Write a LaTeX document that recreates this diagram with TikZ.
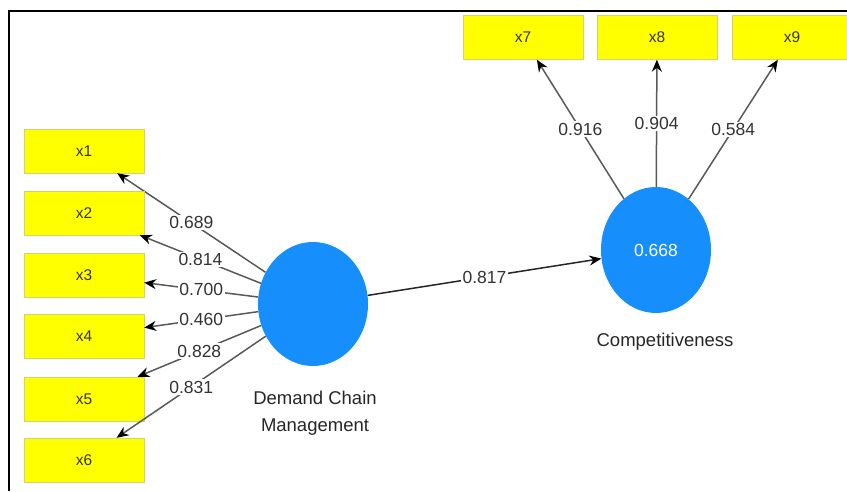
\documentclass[tikz,border=0pt]{standalone}
\usepackage{fontspec}
\setmainfont{Liberation Sans}
\usetikzlibrary{shapes.geometric,arrows.meta}
\definecolor{boxyellow}{RGB}{255,255,0}
\definecolor{boxedge}{RGB}{210,210,110}
\definecolor{lvblue}{RGB}{22,142,252}

\tikzset{
  indicator/.style={draw=boxedge,fill=boxyellow,minimum width=120pt,minimum height=44pt,
    inner sep=0pt,text=black!80,font=\fontsize{15.5}{18}\selectfont},
  latent/.style={ellipse,fill=lvblue,inner sep=0pt},
  coef/.style={fill=white,inner sep=1.5pt,text=black!80,font=\fontsize{17.5}{20}\selectfont},
  loading/.style={draw=black!65,line width=1.5pt,->},
  lvname/.style={align=center,text=black!85,font=\fontsize{18.5}{27}\selectfont},
}

\begin{document}
\begin{tikzpicture}[x=1pt,y=-1pt,>={Stealth[length=12pt,width=10pt,black]}]
      \useasboundingbox (0,0) rectangle (847,491);
      % frame
        \draw[line width=2pt] (847,11) -- (9,11) -- (9,491);
      % latent variables
        \node[latent,minimum width=110pt,minimum height=124pt] (dcm) at (313,304) {};
        \node[latent,minimum width=110pt,minimum height=126pt,text=white,
              font=\fontsize{17.5}{20}\selectfont] (comp) at (656,250) {0.668};
        \node[lvname] (dcmname) at (315,413) {Demand Chain\\Management};
        \node[lvname] (compname) at (665,342) {Competitiveness};
      % indicators of demand chain management
        \foreach \i/\y/\v in {1/151/0.689,2/213/0.814,3/275/0.700,4/336/0.460,5/399/0.828,6/460/0.831}
          {
          \node[indicator] (x\i) at (84,\y) {x\i};
          \draw[loading] (dcm) -- node[coef] {\v} (x\i);
          }
      % indicators of competitiveness
        \foreach \i/\x/\v in {7/523/0.916,8/657/0.904,9/792/0.584}
          {
          \node[indicator] (x\i) at (\x,37.5) {x\i};
          \draw[loading] (comp) -- node[coef] {\v} (x\i);
          }
      % structural path
        \draw[loading,draw=black!85] (dcm) -- node[coef] {0.817} (comp);
      \end{tikzpicture}
\end{document}
